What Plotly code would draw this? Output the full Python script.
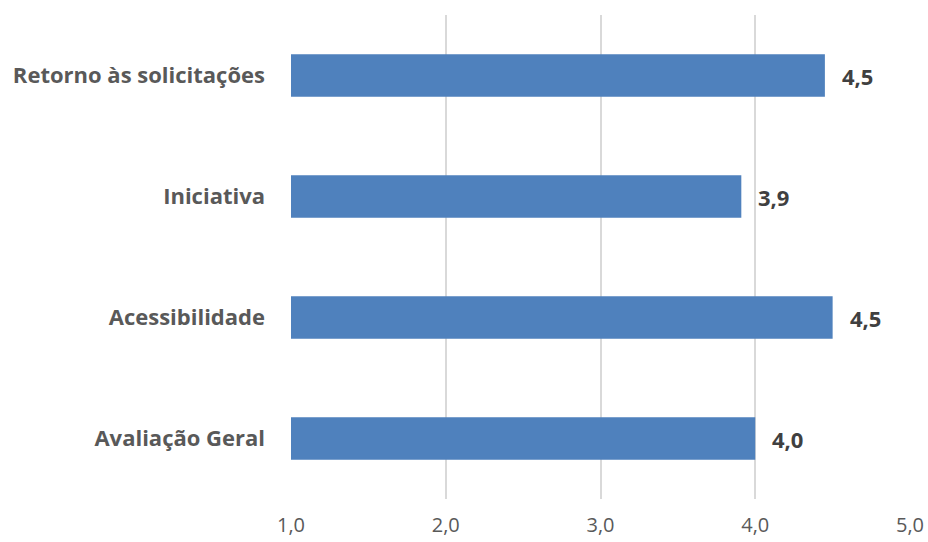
import plotly.graph_objects as go

# Categorias (de baixo para cima) e médias
categorias = ['Avaliação Geral', 'Acessibilidade', 'Iniciativa', 'Retorno às solicitações']
medias = [4.00, 4.50, 3.91, 4.45]
rotulos = ['4,0', '4,5', '3,9', '4,5']
ticks_x = [1, 2, 3, 4, 5]
ticks_txt = ['1,0', '2,0', '3,0', '4,0', '5,0']

fig = go.Figure()

fig.add_trace(go.Bar(
    y=categorias,
    x=[v - 1 for v in medias],
    base=1,
    orientation='h',
    marker=dict(color='#4F81BD', line=dict(width=0)),
    hoverinfo='skip',
))

# Rótulos de dados à direita das barras
for cat, v, t in zip(categorias, medias, rotulos):
    fig.add_annotation(
        x=v, y=cat, text='<b>' + t + '</b>',
        xanchor='left', xshift=15, showarrow=False,
        font=dict(family='Open Sans', size=22, color='#404040'),
    )

fig.update_layout(
    width=928, height=542,
    margin=dict(l=291, r=18, t=15, b=43),
    plot_bgcolor='white', paper_bgcolor='white',
    bargap=0.65,
    showlegend=False,
    xaxis=dict(
        range=[1, 5], tickvals=ticks_x, ticktext=ticks_txt,
        showgrid=True, gridcolor='#D9D9D9', gridwidth=2,
        zeroline=False, showline=False, automargin=False,
        ticks='', ticklabelstandoff=12,
        tickfont=dict(family='Open Sans', size=20, color='#595959'),
    ),
    yaxis=dict(
        showgrid=False, zeroline=False, showline=False, automargin=False,
        ticks='', ticklabelstandoff=25,
        tickfont=dict(family='Open Sans', size=22, color='#595959', weight='bold'),
    ),
)

# sem margem na página, para a figura ocupar a janela inteira
fig.write_html('out.html', config={'displayModeBar': False},
               post_script="document.body.style.margin='0';document.body.style.overflow='hidden';")
